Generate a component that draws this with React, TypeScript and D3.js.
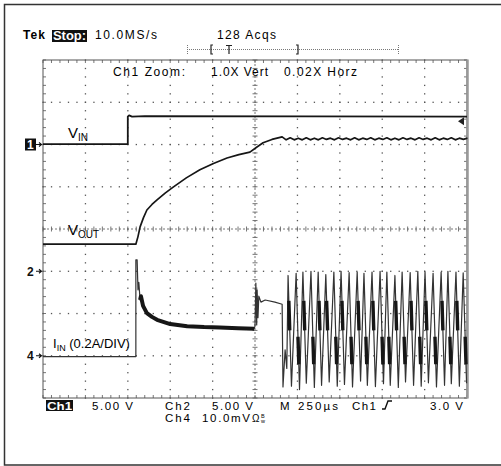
import React from 'react';
import * as d3 from 'd3';

// all traces in screen divisions: x 0..10 (250us/div), y -4..4
const vinT = [0, 2.0, 2.0, 2.03, 2.1, 2.4, 10];
const vinV = [2.01, 2.01, 2.66, 2.69, 2.66, 2.67, 2.66];

const voutT = [0, 2.19, 2.24, 2.29, 2.37, 2.45, 2.57, 2.69, 2.88, 3.07, 3.38, 3.70, 4.02, 4.34, 4.62, 4.88, 5.03, 5.19, 5.40, 5.64];
const voutV = [-0.36, -0.36, -0.18, 0.05, 0.27, 0.45, 0.58, 0.69, 0.85, 0.99, 1.21, 1.40, 1.55, 1.68, 1.76, 1.82, 1.93, 2.04, 2.12, 2.18];
// ripple after the output settles, sampled every 0.095 div
const rippleStart = 5.64;
const rippleStep = 0.095;
const rippleV = [2.18, 2.11, 2.16, 2.11, 2.15, 2.11, 2.16, 2.11, 2.15, 2.11, 2.16, 2.12, 2.15, 2.11, 2.16, 2.12, 2.15, 2.11, 2.16, 2.11, 2.15, 2.12, 2.16, 2.11, 2.15, 2.12, 2.16, 2.11, 2.15, 2.11, 2.16, 2.12, 2.15, 2.11, 2.16, 2.12, 2.15, 2.11, 2.16, 2.11, 2.15, 2.12, 2.16, 2.11, 2.15, 2.12, 2.15];

const iinT = [0, 2.19, 2.19, 2.22, 2.24, 2.26, 2.29, 2.31, 2.36, 2.45, 2.57, 2.69, 3.0, 3.4, 3.8, 4.17, 4.6, 4.98, 5.0, 5.02, 5.04, 5.05, 5.07, 5.09, 5.14, 5.24, 5.47, 5.64, 5.66, 5.71, 5.75];
const iinV = [-3.02, -3.02, -0.73, -0.73, -1.44, -1.26, -1.68, -1.59, -1.82, -1.99, -2.08, -2.15, -2.25, -2.30, -2.32, -2.33, -2.35, -2.36, -2.30, -1.28, -2.27, -1.44, -2.1, -1.59, -1.73, -1.68, -1.73, -1.78, -3.74, -2.86, -3.3];

// oscillation burst: one entry per cycle
const burstT = [5.78, 5.97, 6.13, 6.32, 6.49, 6.67, 6.86, 7.03, 7.22, 7.41, 7.57, 7.76, 7.95, 8.11, 8.30, 8.47, 8.66, 8.84, 9.01, 9.20, 9.39, 9.55, 9.74, 9.91];
const burstTop = [-1.10, -1.05, -1.02, -1.00, -1.02, -1.08, -1.02, -1.00, -1.03, -1.02, -1.05, -1.02, -1.00, -1.02, -1.10, -1.02, -1.03, -1.00, -1.02, -1.05, -1.02, -1.00, -1.02, -1.04];
const burstBottom = [-3.72, -3.80, -3.65, -3.75, -3.70, -3.62, -3.72, -3.68, -3.74, -3.60, -3.70, -3.73, -3.66, -3.70, -3.75, -3.62, -3.70, -3.72, -3.64, -3.74, -3.70, -3.66, -3.72, -3.65];
const burstBand = ['u', 'l', 'u', 'l', 'u', 'u', 'l', 'u', 'l', 'u', 'l', 'u', 'l', 'l', 'u', 'l', 'u', 'l', 'u', 'l', 'u', 'l', 'u', 'l'];

const chMarkers = [{ label: '1', v: 2.0, boxed: true }, { label: '2', v: -1.0, boxed: false }, { label: '4', v: -3.0, boxed: false }];

const sans = '"Liberation Sans", Arial, sans-serif';

export default function App() {
  const x = d3.scaleLinear().domain([0, 10]).range([43, 467]);
  const y = d3.scaleLinear().domain([-4, 4]).range([398, 60]);
  const line = d3.line<[number, number]>().x(d => x(d[0])).y(d => y(d[1]));

  const vin = line(vinT.map((t, i) => [t, vinV[i]]));
  const voutPts: [number, number][] = voutT.map((t, i) => [t, voutV[i]]);
  rippleV.forEach((v, i) => voutPts.push([rippleStart + i * rippleStep, v]));
  const vout = line(voutPts);

  const iinPts: [number, number][] = iinT.map((t, i) => [t, iinV[i]]);
  burstT.forEach((t, i) => {
    iinPts.push([t, burstTop[i]]);
    iinPts.push([t + 0.08, burstBottom[i]]);
  });
  const iin = line(iinPts);
  const iinBand = line(iinPts.filter(d => d[0] >= 2.29 && d[0] <= 4.98));

  // thick dark chunks on the falling edge of each burst cycle
  const bands = burstT.map((t, i) => {
    const [a, b] = burstBand[i] === 'u' ? [-1.7, -2.4] : [-2.55, -3.2];
    const fx = d3.scaleLinear().domain([burstTop[i], burstBottom[i]]).range([t, t + 0.08]);
    return line([[fx(a), a], [fx(b), b]]);
  });

  const minorX = d3.range(0, 10.001, 0.2);
  const minorY = d3.range(-4, 4.001, 0.2);
  const majorX = [1, 2, 3, 4, 6, 7, 8, 9];
  const majorY = [-3, -2, -1, 1, 2, 3];

  return (
    <svg width={501} height={466} style={{ position: 'absolute', left: 0, top: 0, background: '#fff' }} fontFamily={sans}>
      <rect x={4.5} y={4.5} width={520} height={460.5} fill="none" stroke="#333" strokeWidth={1.5} />

      {/* header */}
      <text x={23} y={39} fontSize={12} fontWeight="bold" textLength={22} lengthAdjust="spacing">Tek</text>
      <rect x={52} y={30} width={35} height={12} fill="#111" />
      <text x={53} y={40} fontSize={12} fontWeight="bold" fill="#fff" textLength={33} lengthAdjust="spacingAndGlyphs">Stop:</text>
      <text x={95} y={39} fontSize={12} textLength={62} lengthAdjust="spacing">10.0MS/s</text>
      <text x={217} y={39} fontSize={12} textLength={59} lengthAdjust="spacing">128 Acqs</text>
      <g stroke="#777" strokeWidth={1} fill="none">
        <line x1={187} x2={398} y1={49.5} y2={49.5} strokeDasharray="1,1" />
        <line x1={187.5} x2={187.5} y1={45} y2={54} strokeDasharray="1,1" />
        <line x1={398.5} x2={398.5} y1={45} y2={54} strokeDasharray="1,1" />
      </g>
      <g stroke="#222" strokeWidth={1.2} fill="none">
        <path d="M213,45 H211 V54 H213" />
        <path d="M226,45.5 H232 M229,45.5 V54" />
        <path d="M296,45 H298 V54 H296" />
      </g>

      {/* grid */}
      <g fill="#555">
        {majorX.map(k => minorY.map(v => <rect key={`vx${k}_${v}`} x={x(k) - 0.6} y={y(v) - 0.6} width={1.3} height={1.3} />))}
        {majorY.map(k => minorX.map(t => <rect key={`hy${k}_${t}`} x={x(t) - 0.6} y={y(k) - 0.6} width={1.3} height={1.3} />))}
      </g>
      <g stroke="#666" strokeWidth={0.9}>
        <line x1={x(0)} x2={x(10)} y1={y(0)} y2={y(0)} strokeDasharray="2,2" />
        <line x1={x(5)} x2={x(5)} y1={y(-4)} y2={y(4)} strokeDasharray="2,2" />
        {minorX.map(t => <line key={`ct${t}`} x1={x(t)} x2={x(t)} y1={y(0) - 2.5} y2={y(0) + 2.5} />)}
        {minorY.map(v => <line key={`cv${v}`} x1={x(5) - 2.5} x2={x(5) + 2.5} y1={y(v)} y2={y(v)} />)}
        {minorX.map(t => <line key={`tt${t}`} x1={x(t)} x2={x(t)} y1={y(4)} y2={y(4) + 3} />)}
        {minorX.map(t => <line key={`bt${t}`} x1={x(t)} x2={x(t)} y1={y(-4)} y2={y(-4) - 3} />)}
        {minorY.map(v => <line key={`lt${v}`} x1={x(0)} x2={x(0) + 3} y1={y(v)} y2={y(v)} />)}
        {minorY.map(v => <line key={`rt${v}`} x1={x(10)} x2={x(10) - 3} y1={y(v)} y2={y(v)} />)}
      </g>
      <rect x={x(0)} y={y(4)} width={x(10) - x(0)} height={y(-4) - y(4)} fill="none" stroke="#555" strokeWidth={1} />
      <line x1={x(10) + 0.5} x2={x(10) + 0.5} y1={y(4) - 0.5} y2={y(-4) + 0.5} stroke="#999" strokeWidth={2.5} />

      <text x={113} y={76} fontSize={12} textLength={72} lengthAdjust="spacing">Ch1 Zoom:</text>
      <text x={211} y={76} fontSize={12} textLength={57} lengthAdjust="spacing">1.0X Vert</text>
      <text x={284} y={76} fontSize={12} textLength={73} lengthAdjust="spacing">0.02X Horz</text>

      {/* traces */}
      <g fill="none" stroke="#161616" strokeLinejoin="round">
        <path d={vin ?? ''} strokeWidth={1.8} />
        <path d={vout ?? ''} strokeWidth={1.7} />
        <path d={iin ?? ''} strokeWidth={1.2} stroke="#333" />
        <path d={iinBand ?? ''} strokeWidth={4} />
        {bands.map((d, i) => <path key={`b${i}`} d={d ?? ''} strokeWidth={3.4} />)}
      </g>
      <path d={`M${x(10) - 9},${y(2.55)} L${x(10) - 3},${y(2.55) - 4} L${x(10) - 3},${y(2.55) + 4} Z`} fill="#222" />

      {/* trace labels */}
      <text x={68} y={138} fontSize={15}>V<tspan fontSize={10} dy={3}>IN</tspan></text>
      <text x={68} y={235} fontSize={15}>V<tspan fontSize={10} dy={3}>OUT</tspan></text>
      <text x={53} y={348} fontSize={13}>I<tspan fontSize={9} dy={3}>IN</tspan><tspan dy={-3}> (0.2A/DIV)</tspan></text>

      {/* channel ground markers */}
      {chMarkers.map(m => (
        <g key={m.label} transform={`translate(0,${y(m.v)})`}>
          {m.boxed && <rect x={25} y={-6} width={11} height={12} fill="#111" />}
          <text x={27} y={4.5} fontSize={12} fontWeight="bold" fill={m.boxed ? '#fff' : '#111'}>{m.label}</text>
          <path d="M36,0 H41 M39,-2 L41.5,0 L39,2" stroke="#111" strokeWidth={1.1} fill="none" />
        </g>
      ))}

      {/* readout */}
      <g fontSize={11.5}>
        <rect x={46} y={400} width={27} height={11} fill="#111" />
        <text x={47} y={409.5} fontWeight="bold" fill="#fff" textLength={25} lengthAdjust="spacingAndGlyphs">Ch1</text>
        <text x={92} y={410} textLength={41} lengthAdjust="spacing">5.00 V</text>
        <text x={165} y={410} textLength={25} lengthAdjust="spacing">Ch2</text>
        <text x={212} y={410} textLength={41} lengthAdjust="spacing">5.00 V</text>
        <text x={280} y={410}>M</text>
        <text x={298} y={410} textLength={40} lengthAdjust="spacing">250µs</text>
        <text x={352} y={410} textLength={24} lengthAdjust="spacing">Ch1</text>
        <text x={430} y={410} textLength={33} lengthAdjust="spacing">3.0 V</text>
        <text x={165} y={422} textLength={25} lengthAdjust="spacing">Ch4</text>
        <text x={202} y={422} textLength={48} lengthAdjust="spacing">10.0mV</text>
        <text x={252} y={422} fontSize={10}>Ω</text>
        <text x={261} y={418} fontSize={5.5}>B</text>
        <text x={261} y={423} fontSize={5.5}>w</text>
      </g>
      <path d="M382,409 H385 L388,401 H392" stroke="#111" strokeWidth={1.4} fill="none" />
    </svg>
  );
}
